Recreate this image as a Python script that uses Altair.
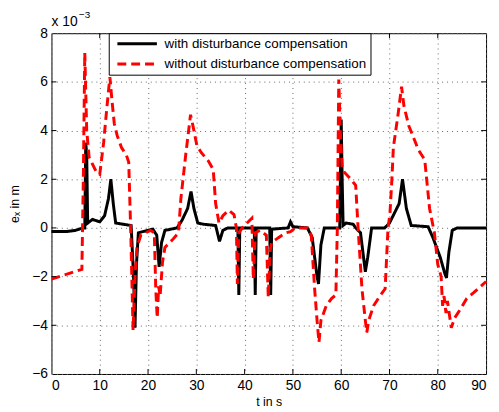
import altair as alt
import pandas as pd

# with disturbance compensation (values in 1e-3 m)
t_with = [0, 3, 5, 6.5, 6.9, 7.1, 7.3, 7.5, 8.5, 10, 11, 11.8, 12.3, 12.8, 13.3, 16.5,
          17.0, 17.3, 17.6, 18.0, 21.0, 21.8, 22.3, 22.8, 23.5, 26.0, 27.0, 28.2, 28.9,
          29.5, 30.3, 31.5, 34.0, 34.8, 35.5, 36.5, 38.6, 38.8, 39.0, 42.0, 42.2, 42.4,
          45.2, 45.4, 45.6, 49.0, 49.5, 50.0, 53.0, 54.0, 55.0, 55.3, 55.8, 56.5, 59.7,
          60.0, 60.2, 60.4, 61.0, 62.5, 63.0, 64.0, 65.0, 65.5, 66.3, 69.0, 70.0, 71.0,
          72.0, 72.7, 73.5, 74.5, 78.0, 79.0, 80.5, 81.5, 81.8, 82.3, 83.0, 84.0, 90.0]
v_with = [-0.15, -0.15, -0.1, 0.0, 0.0, 3.5, 3.0, 0.2, 0.35, 0.25, 0.5, 1.2, 2.0, 1.0, 0.2, 0.1,
          -2.0, -4.1, -1.5, -0.2, -0.05, -0.3, -1.6, -0.6, -0.1, 0.0, 0.3, 0.8, 1.5,
          0.8, 0.2, 0.15, 0.1, -0.55, -0.1, 0.0, 0.0, -2.75, 0.0, 0.0, -2.75, 0.0,
          0.0, -2.75, -0.05, 0.0, 0.25, 0.05, 0.0, -0.4, -2.0, -2.3, -0.7, 0.0, 0.0,
          4.45, 2.0, 0.1, 0.2, 0.15, 0.0, -0.2, -1.8, -1.2, 0.0, 0.0, 0.2, 0.6,
          1.0, 2.0, 0.8, 0.1, 0.05, -0.4, -1.2, -1.9, -2.05, -1.0, -0.1, 0.0, 0.0]

# without disturbance compensation
t_without = [0, 6.3, 6.6, 6.9, 7.3, 7.8, 8.3, 9.3, 10.0, 10.8, 11.5, 12.1, 12.5, 13.0, 13.6,
             14.5, 15.5, 16.0, 16.4, 16.9, 17.3, 17.7, 18.5, 20.5, 21.3, 21.6, 21.9, 22.2,
             22.5, 23.0, 23.5, 25.0, 26.3, 26.8, 27.8, 28.8, 29.3, 30.1, 31.0, 32.5, 33.5,
             34.0, 34.7, 35.5, 36.7, 37.8, 38.3, 38.5, 38.8, 39.5, 41.5, 41.8, 42.2, 43.2,
             44.5, 44.9, 45.3, 45.6, 47.0, 48.5, 49.5, 50.5, 53.0, 53.8, 54.5, 55.0, 55.4,
             55.8, 56.9, 58.0, 58.9, 59.2, 59.5, 59.8, 60.2, 60.6, 62.0, 63.0, 63.5, 64.3,
             65.0, 65.3, 65.7, 66.7, 68.0, 69.1, 69.7, 70.1, 70.5, 70.8, 71.8, 72.5, 73.0,
             74.0, 74.6, 76.0, 77.3, 78.3, 79.3, 80.0, 80.7, 81.0, 81.3, 81.7, 82.0, 82.8,
             83.5, 84.8, 86.0, 87.5, 90.0]
v_without = [-2.1, -1.7, 2.0, 7.2, 4.0, 2.9, 2.7, 2.3, 2.2, 3.5, 5.0, 6.2, 5.3, 4.3, 3.8,
             3.3, 3.0, 2.7, 0.0, -4.2, -2.0, -0.8, -0.3, -0.1, -0.2, -2.5, -3.7, -2.4,
             -2.8, -1.4, -0.8, -0.5, -0.2, 1.2, 3.0, 4.65, 4.2, 3.4, 3.1, 2.75, 2.4,
             1.0, 0.2, 0.5, 0.73, 0.55, 0.0, -2.3, -0.2, 0.0, 0.4, -2.1, -0.2, -0.1,
             -0.3, -2.85, -0.9, -0.6, -0.4, -0.2, -0.15, 0.0, 0.0, -0.3, -2.5, -3.8, -4.7,
             -3.8, -3.2, -2.9, -2.75, 0.0, 6.1, 4.0, 2.5, 2.3, 2.0, 1.75, 0.0, -2.5,
             -3.8, -4.3, -3.8, -3.2, -2.8, -2.5, 0.0, 0.6, 2.0, 3.3, 4.7, 5.8, 5.0,
             4.2, 3.9, 3.2, 2.8, 0.8, -0.2, -1.5, -2.0, -3.2, -2.8, -3.5, -3.0, -4.1,
             -3.7, -3.3, -2.9, -2.65, -2.2]

series_names = ["with disturbance compensation", "without disturbance compensation"]
x_ticks = [0, 10, 20, 30, 40, 50, 60, 70, 80, 90]
y_ticks = [-6, -4, -2, 0, 2, 4, 6, 8]

rows = []
for i, (t, v) in enumerate(zip(t_with, v_with)):
    rows.append({"t": t, "v": v, "series": series_names[0], "i": i})
for i, (t, v) in enumerate(zip(t_without, v_without)):
    rows.append({"t": t, "v": v, "series": series_names[1], "i": i})
df = pd.DataFrame(rows)

W, H = 440, 345
FONT = "Liberation Sans, Arial, DejaVu Sans"

xscale = alt.Scale(domain=[0, 90], nice=False, zero=False)
yscale = alt.Scale(domain=[-6, 8], nice=False, zero=False)


def make_legend():
    return alt.Legend(orient="none", legendX=58, legendY=0, title=None,
                      strokeColor="black", fillColor="white",
                      padding=4, labelFont=FONT, labelFontSize=13.5,
                      labelColor="black",
                      symbolType="M-0.4,0H7.6", symbolSize=100,
                      symbolStrokeWidth=3, rowPadding=5.5, labelOffset=39,
                      cornerRadius=0, labelLimit=400)


lines = alt.Chart(df).mark_line(strokeJoin="miter", strokeMiterLimit=3).encode(
    x=alt.X("t:Q", scale=xscale,
            axis=alt.Axis(values=x_ticks, title="t in s", grid=True, tickSize=0,
                          labelPadding=5, titlePadding=3)),
    y=alt.Y("v:Q", scale=yscale,
            axis=alt.Axis(values=y_ticks, title="eₓ in m", grid=True, tickSize=0,
                          labelPadding=4, titlePadding=10)),
    color=alt.Color("series:N",
                    scale=alt.Scale(domain=series_names, range=["#000000", "#ff0000"]),
                    legend=make_legend()),
    strokeDash=alt.StrokeDash("series:N",
                              scale=alt.Scale(domain=series_names, range=[[1, 0], [9, 5]]),
                              legend=make_legend()),
    strokeWidth=alt.value(3),
    order="i:Q",
)

xt = pd.DataFrame({"t": x_ticks[1:-1]})
yt = pd.DataFrame({"v": y_ticks[1:-1]})
tick_bottom = alt.Chart(xt).mark_rule(color="black", strokeWidth=1).encode(
    x=alt.X("t:Q", scale=xscale), y=alt.value(H), y2=alt.value(H - 5))
tick_top = alt.Chart(xt).mark_rule(color="black", strokeWidth=1).encode(
    x=alt.X("t:Q", scale=xscale), y=alt.value(0), y2=alt.value(5))
tick_left = alt.Chart(yt).mark_rule(color="black", strokeWidth=1).encode(
    y=alt.Y("v:Q", scale=yscale), x=alt.value(0), x2=alt.value(5))
tick_right = alt.Chart(yt).mark_rule(color="black", strokeWidth=1).encode(
    y=alt.Y("v:Q", scale=yscale), x=alt.value(W), x2=alt.value(W - 5))

exp_base = alt.Chart(pd.DataFrame({"s": ["x 10"]})).mark_text(
    align="left", baseline="alphabetic", font=FONT, fontSize=14, color="black"
).encode(text="s:N", x=alt.value(0), y=alt.value(-7))
exp_sup = alt.Chart(pd.DataFrame({"s": ["−3"]})).mark_text(
    align="left", baseline="alphabetic", font=FONT, fontSize=10, color="black"
).encode(text="s:N", x=alt.value(28), y=alt.value(-15))

chart = alt.layer(lines, tick_bottom, tick_top, tick_left, tick_right, exp_base, exp_sup).properties(
    width=W, height=H,
    autosize=alt.AutoSizeParams(type="none"),
    padding={"left": 44, "top": 23, "right": 5, "bottom": 38},
    background="white",
).configure_view(
    stroke="black", strokeWidth=1
).configure_axis(
    labelFont=FONT, titleFont=FONT, labelFontSize=14, titleFontSize=12.5,
    labelColor="black", titleColor="black", titleFontWeight="normal",
    domain=False, gridColor="#666666", gridDash=[1, 4], gridWidth=1, gridOpacity=1,
)

chart.save("out.html", embed_options={"renderer": "svg", "actions": False})
